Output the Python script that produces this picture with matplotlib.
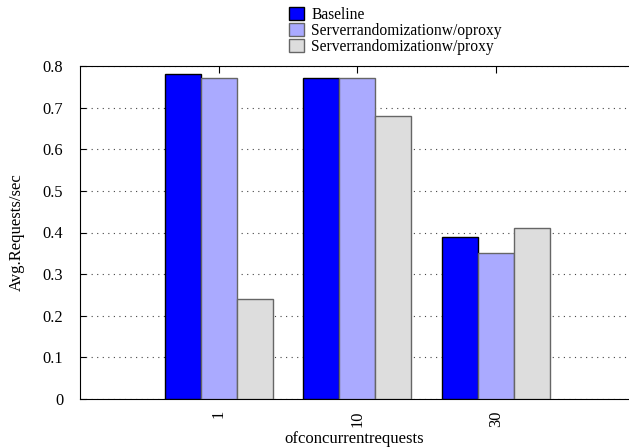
import numpy as np
import matplotlib.pyplot as plt

categories = ['1', '10', '30']
baseline = [0.78, 0.77, 0.39]
no_proxy = [0.77, 0.77, 0.35]
with_proxy = [0.24, 0.68, 0.41]

plt.rcParams['font.family'] = ['Liberation Serif', 'DejaVu Serif']

fig = plt.figure(figsize=(6.29, 4.47), dpi=100)
ax = fig.add_axes([80 / 629, 48 / 447, 549 / 629, 333 / 447])

x = np.arange(1, len(categories) + 1)
w = 0.26
ax.bar(x - w, baseline, w, color='#0000ff', edgecolor='black', linewidth=1,
       label='Baseline', zorder=3)
ax.bar(x, no_proxy, w, color='#aaaaff', edgecolor='#666666', linewidth=1,
       label='Serverrandomizationw/oproxy', zorder=3)
ax.bar(x + w, with_proxy, w, color='#dddddd', edgecolor='#666666', linewidth=1,
       label='Serverrandomizationw/proxy', zorder=3)

ax.set_xlim(0, 3.96)
ax.set_ylim(0, 0.8)
ax.set_yticks(np.arange(0, 0.81, 0.1))
ax.set_yticklabels(['0'] + ['%.1f' % v for v in np.arange(0.1, 0.81, 0.1)])
ax.set_xticks(x)
ax.set_xticklabels(categories, rotation=90)
ax.tick_params(axis='x', direction='in', top=True, bottom=False, length=5,
               labelsize=11.8, pad=8)
ax.tick_params(axis='y', direction='in', length=4, labelsize=11.8, pad=12)
ax.spines['right'].set_visible(False)

ax.yaxis.grid(True, linestyle=(0, (1, 4)), color='#444444', linewidth=0.8, zorder=0)

ax.set_ylabel('Avg.Requests/sec', fontsize=12)
ax.yaxis.set_label_coords(-55 / 549, 0.5)
ax.set_xlabel('ofconcurrentrequests', fontsize=12, labelpad=3)

ax.legend(loc='upper left', bbox_to_anchor=(278 / 629, 1.009), bbox_transform=fig.transFigure,
          frameon=False, fontsize=11.2, handlelength=0.95, handleheight=0.95,
          labelspacing=0.0, handletextpad=0.5, borderpad=0.2)

plt.savefig('out.png', dpi=100)
